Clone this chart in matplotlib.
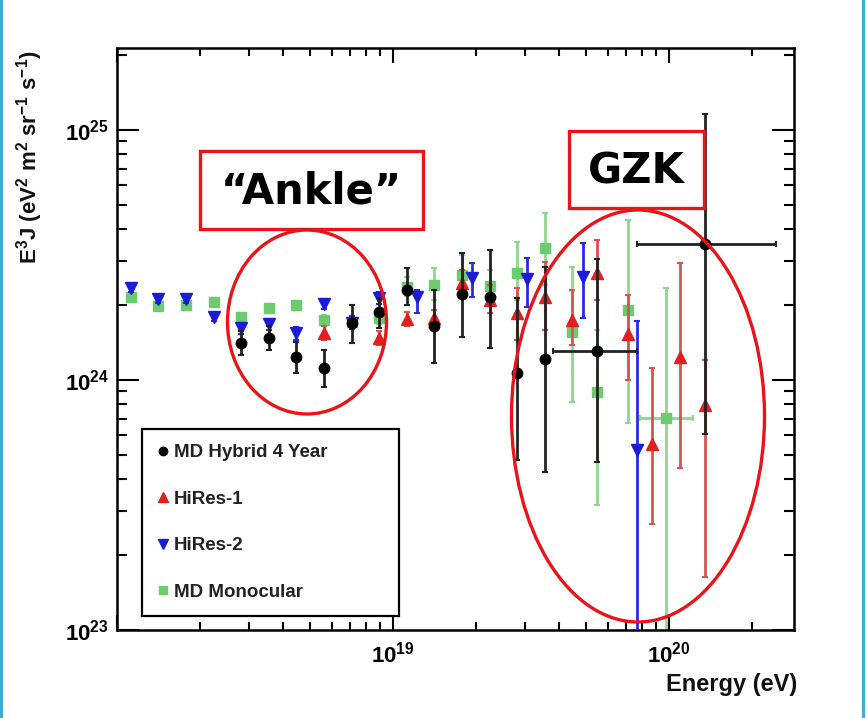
import numpy as np
import matplotlib
matplotlib.use("Agg")
import matplotlib.pyplot as plt
from matplotlib.lines import Line2D
from matplotlib.patches import Rectangle, Ellipse
from matplotlib.ticker import LogLocator, FuncFormatter, NullFormatter

plt.rcParams['font.family'] = ['Liberation Sans', 'DejaVu Sans']
plt.rcParams['mathtext.fontset'] = 'custom'
plt.rcParams['mathtext.rm'] = 'Liberation Sans'
plt.rcParams['mathtext.bf'] = 'Liberation Sans:bold'
plt.rcParams['mathtext.it'] = 'Liberation Sans:italic'

# energies in units of 1e18 eV, flux E^3 J in units of 1e24 eV^2 m^-2 sr^-1 s^-1
hyb_E = [2.82, 3.55, 4.47, 5.62, 7.08, 8.91, 11.2, 14.1, 17.8, 22.4, 28.2, 35.5, 54.8, 135]
hyb_J = [1.41, 1.47, 1.24, 1.12, 1.69, 1.87, 2.29, 1.64, 2.21, 2.15, 1.07, 1.21, 1.31, 3.50]
hyb_lo = [1.26, 1.32, 1.07, 0.94, 1.41, 1.61, 2.00, 1.17, 1.49, 1.34, 0.48, 0.43, 0.47, 0.61]
hyb_hi = [1.57, 1.64, 1.42, 1.32, 2.00, 2.13, 2.81, 2.29, 3.22, 3.31, 2.13, 2.83, 3.05, 11.6]
hyb_Elo = [2.82, 3.55, 4.47, 5.62, 7.08, 8.91, 11.2, 14.1, 17.8, 22.4, 28.2, 35.5, 38.0, 76.6]
hyb_Ehi = [2.82, 3.55, 4.47, 5.62, 7.08, 8.91, 11.2, 14.1, 17.8, 22.4, 28.2, 35.5, 76.6, 244]

hr1_E = [5.62, 8.91, 11.2, 14.1, 17.8, 22.4, 28.2, 35.5, 44.7, 54.8, 70.8, 87.0, 110, 135]
hr1_J = [1.54, 1.47, 1.75, 1.77, 2.44, 2.09, 1.85, 2.15, 1.74, 2.68, 1.53, 0.555, 1.24, 0.794]
hr1_lo = [1.45, 1.38, 1.64, 1.64, 2.19, 1.85, 1.45, 1.58, 1.38, 2.09, 1.00, 0.265, 0.445, 0.163]
hr1_hi = [1.64, 1.57, 1.87, 1.91, 2.75, 2.40, 2.33, 2.97, 2.29, 3.63, 2.19, 1.12, 2.94, 1.20]

hr2_E = [1.12, 1.41, 1.78, 2.24, 2.82, 3.55, 4.47, 5.62, 7.08, 8.91, 12.2, 19.3, 30.6, 48.8, 76.6]
hr2_J = [2.33, 2.11, 2.11, 1.79, 1.61, 1.67, 1.54, 2.01, 1.69, 2.13, 2.15, 2.56, 2.54, 2.58, 0.525]
hr2_lo = [2.25, 2.04, 2.04, 1.72, 1.53, 1.58, 1.45, 1.92, 1.60, 2.02, 1.85, 2.15, 1.96, 1.77, 0.05]
hr2_hi = [2.40, 2.18, 2.18, 1.86, 1.69, 1.76, 1.63, 2.10, 1.80, 2.24, 2.29, 2.94, 3.08, 3.53, 1.72]

mono_E = [1.12, 1.41, 1.78, 2.24, 2.82, 3.55, 4.47, 5.62, 7.08, 8.91, 11.2, 14.1, 17.8, 22.4,
          28.2, 35.5, 44.7, 54.8, 70.8, 97.5]
mono_J = [2.15, 1.98, 2.00, 2.05, 1.79, 1.94, 2.00, 1.74, 1.71, 1.77, 2.36, 2.40, 2.63, 2.38,
          2.68, 3.37, 1.56, 0.895, 1.91, 0.705]
mono_lo = [2.09, 1.92, 1.94, 1.98, 1.72, 1.87, 1.93, 1.66, 1.62, 1.68, 2.16, 2.09, 2.19, 2.09,
           2.09, 2.40, 0.82, 0.316, 0.673, 0.05]
mono_hi = [2.22, 2.04, 2.06, 2.12, 1.86, 2.01, 2.07, 1.82, 1.80, 1.86, 2.58, 2.81, 3.16, 2.75,
           3.56, 4.66, 2.83, 1.58, 4.37, 2.33]
mono_Elo = mono_E[:-1] + [78.5]
mono_Ehi = mono_E[:-1] + [122]

labels = ["MD Hybrid 4 Year", "HiRes-1", "HiRes-2", "MD Monocular"]

W, H = 867, 718
fig = plt.figure(figsize=(W / 100, H / 100), dpi=100)
ax = fig.add_axes([117 / W, 1 - 630 / H, 677 / W, 582 / H])


def draw(E, J, lo, hi, marker, color, ecolor, ms, z, Elo=None, Ehi=None):
    E = np.array(E) * 1e18
    J = np.array(J) * 1e24
    yerr = [J - np.array(lo) * 1e24, np.array(hi) * 1e24 - J]
    xerr = None
    if Elo is not None:
        xerr = [E - np.array(Elo) * 1e18, np.array(Ehi) * 1e18 - E]
    ax.errorbar(E, J, yerr=yerr, xerr=xerr, fmt=marker, color=color, ecolor=ecolor,
                ms=ms, mec=color, elinewidth=2, capsize=2.5, capthick=1.5, zorder=z)


draw(mono_E, mono_J, mono_lo, mono_hi, 's', '#6ccb6c', '#8fd68f', 7, 2, mono_Elo, mono_Ehi)
draw(hr2_E, hr2_J, hr2_lo, hr2_hi, 'v', '#1c1cd8', '#2a2ad8', 8.5, 3)
draw(hr1_E, hr1_J, hr1_lo, hr1_hi, '^', '#e31e1e', '#d65454', 8.5, 4)
draw(hyb_E, hyb_J, hyb_lo, hyb_hi, 'o', '#000000', '#222222', 7.5, 5, hyb_Elo, hyb_Ehi)

ax.set_xscale('log')
ax.set_yscale('log')
ax.set_xlim(1.0e18, 10 ** (18 + 677 / 276))
ax.set_ylim(1e23, 10 ** (23 + 582 / 250))

ax.xaxis.set_major_locator(LogLocator(base=10, numticks=10))
ax.xaxis.set_minor_locator(LogLocator(base=10, subs=np.arange(2, 10), numticks=30))
ax.yaxis.set_major_locator(LogLocator(base=10, numticks=10))
ax.yaxis.set_minor_locator(LogLocator(base=10, subs=np.arange(2, 10), numticks=30))


def sci(v, pos):
    e = int(round(np.log10(v)))
    if e == 18:
        return ""
    return r'$\mathbf{10^{%d}}$' % e


ax.xaxis.set_major_formatter(FuncFormatter(sci))
ax.yaxis.set_major_formatter(FuncFormatter(sci))
ax.xaxis.set_minor_formatter(NullFormatter())
ax.yaxis.set_minor_formatter(NullFormatter())

ax.tick_params(axis='both', which='both', direction='in', top=True, right=True, width=1.5)
ax.tick_params(axis='y', which='major', length=16, pad=6, labelsize=16)
ax.tick_params(axis='y', which='minor', length=7)
ax.tick_params(axis='x', which='major', length=11, pad=8, labelsize=16)
ax.tick_params(axis='x', which='minor', length=6)
for s in ax.spines.values():
    s.set_linewidth(1.8)

fig.text(797 / W, 1 - 684 / H, "Energy (eV)", ha='right', va='center',
         fontsize=17, fontweight='bold', color='#111111')
fig.text(30 / W, 1 - 50 / H, r'$\mathbf{E^3J\ (eV^2\ m^2\ sr^{-1}\ s^{-1})}$',
         rotation=90, ha='center', va='top', fontsize=16, color='#111111')

handles = [
    Line2D([], [], ls='none', marker='o', color='#000000', ms=6),
    Line2D([], [], ls='none', marker='^', color='#e31e1e', ms=7),
    Line2D([], [], ls='none', marker='v', color='#1c1cd8', ms=7),
    Line2D([], [], ls='none', marker='s', color='#6ccb6c', ms=6),
]
leg = ax.legend(handles, labels, loc='lower left', bbox_to_anchor=(25 / 677, 14 / 582, 257 / 677, 0.3),
                mode='expand', borderaxespad=0, fancybox=False, framealpha=1, edgecolor='black',
                prop={'size': 13.5, 'weight': 'bold'}, labelspacing=1.57, borderpad=0.8,
                handlelength=0.6, handletextpad=0.3, labelcolor='#222222')
leg.get_frame().set_linewidth(1.6)
leg.set_zorder(10)

# slide overlay: callout boxes and circles in pixel coordinates
ov = fig.add_axes([0, 0, 1, 1], zorder=20)
ov.set_xlim(0, W)
ov.set_ylim(H, 0)
ov.axis('off')
ov.patch.set_alpha(0)
red = '#e8141a'
ov.add_patch(Rectangle((200, 151), 223, 78, fill=True, facecolor='white', edgecolor=red, lw=2.4))
ov.text(311, 191, "\u201cAnkle\u201d", ha='center', va='center', fontsize=30,
        fontweight='bold', family='DejaVu Sans')
ov.add_patch(Ellipse((307, 322), 159, 184, fill=False, edgecolor=red, lw=2.4))
ov.add_patch(Rectangle((569, 131), 135, 77, fill=True, facecolor='white', edgecolor=red, lw=2.4))
ov.text(636, 171, "GZK", ha='center', va='center', fontsize=30,
        fontweight='bold', family='DejaVu Sans')
ov.add_patch(Ellipse((638, 416), 253, 412, fill=False, edgecolor=red, lw=2.4))
# thin slide border lines on both sides
ov.add_patch(Rectangle((0, 0), 2.5, H, facecolor='#3aaed8', edgecolor='none'))
ov.add_patch(Rectangle((862, 0), 2.5, H, facecolor='#3aaed8', edgecolor='none'))

fig.savefig("out.png", dpi=100)
